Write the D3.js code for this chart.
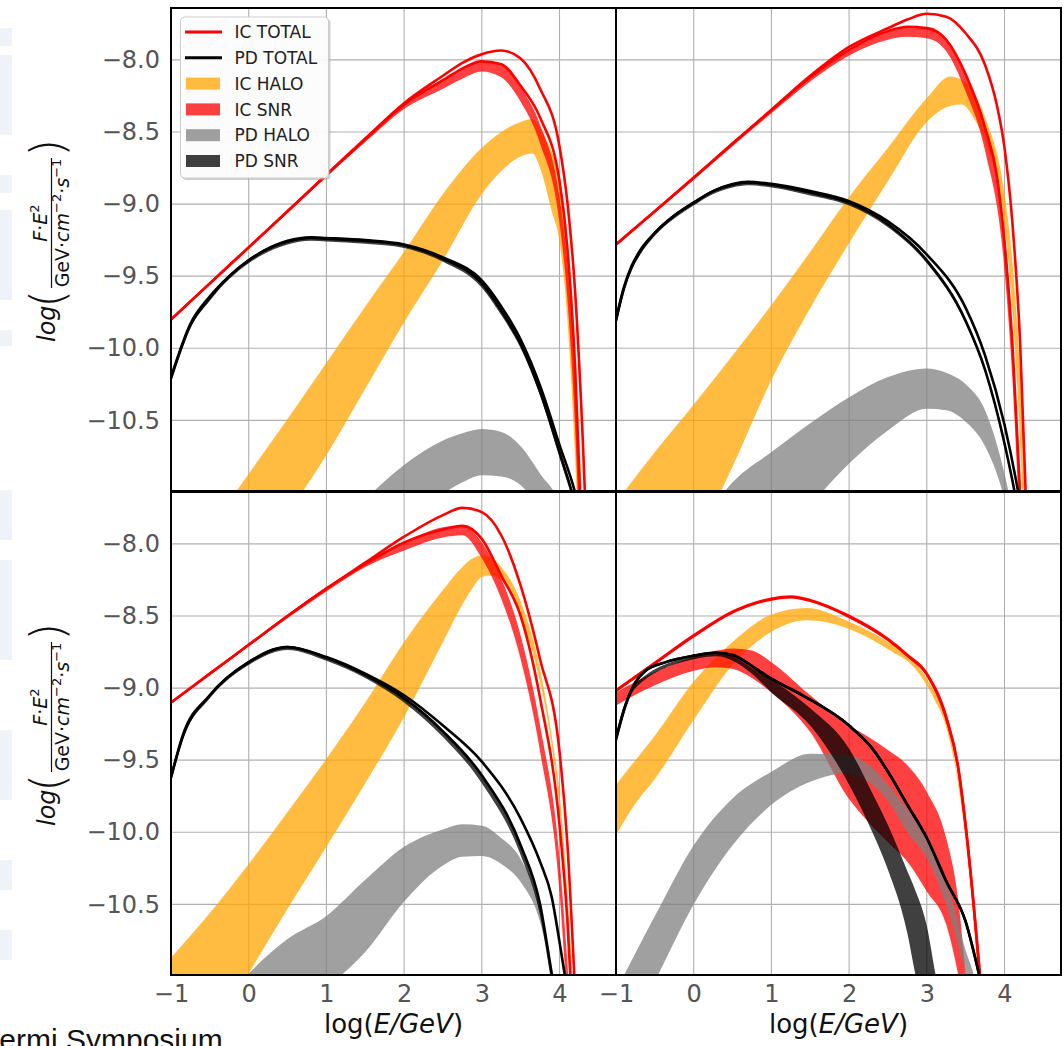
<!DOCTYPE html>
<html>
<head>
<meta charset="utf-8">
<script src="https://cdn.jsdelivr.net/npm/d3@7"></script>
<style>
  body { margin: 0; background: #fff; }
  svg { display: block; font-family: "DejaVu Sans", sans-serif; }
</style>
</head>
<body>
<div id="chart-area"></div>
<script>
// values: [logE, lower, upper]
var xTicks = [-1, 0, 1, 2, 3, 4];
var yTicks = [-8.0, -8.5, -9.0, -9.5, -10.0, -10.5];
var legendLabels = ["IC TOTAL", "PD TOTAL", "IC HALO", "IC SNR", "PD HALO", "PD SNR"];

// ---- top left
var tlIcTotal = [[-1,-9.80,-9.80],[-0.5,-9.55,-9.55],[0,-9.30,-9.30],[0.5,-9.05,-9.05],[1,-8.80,-8.795],[1.5,-8.55,-8.545],[2,-8.31,-8.30],[2.5,-8.14,-8.11],[2.75,-8.06,-8.02],[3,-8.01,-7.96],[3.25,-8.03,-7.935],[3.5,-8.18,-7.99],[3.75,-8.40,-8.20],[4,-8.84,-8.60],[4.1,-9.30,-8.98],[4.2,-10.13,-9.60],[4.3,-11.5,-10.64],[4.4,-12.5,-12.0]];
var tlPdTotal = [[-1,-10.21,-10.20],[-0.75,-9.84,-9.83],[-0.5,-9.65,-9.64],[-0.25,-9.50,-9.50],[0,-9.39,-9.39],[0.5,-9.26,-9.255],[0.8,-9.235,-9.23],[1,-9.24,-9.235],[1.5,-9.255,-9.25],[2,-9.285,-9.28],[2.5,-9.38,-9.37],[3,-9.55,-9.53],[3.25,-9.74,-9.71],[3.5,-9.97,-9.94],[3.75,-10.30,-10.26],[4,-10.72,-10.67],[4.2,-11.08,-11.0],[4.4,-11.6,-11.5]];
var tlIcHalo = [[-1,-12.3,-11.65],[-0.5,-11.95,-11.25],[0,-11.55,-10.87],[0.5,-11.15,-10.49],[1,-10.74,-10.10],[1.5,-10.28,-9.71],[2,-9.82,-9.33],[2.5,-9.39,-8.93],[3,-8.93,-8.61],[3.25,-8.77,-8.50],[3.5,-8.67,-8.43],[3.65,-8.65,-8.41],[3.75,-8.75,-8.47],[3.9,-9.05,-8.64],[4,-9.26,-8.80],[4.1,-9.79,-9.21],[4.2,-10.75,-9.95],[4.3,-12.0,-11.2]];
var tlIcSnr = [[-1,-9.81,-9.80],[0,-9.31,-9.30],[1,-8.81,-8.80],[1.5,-8.57,-8.55],[2,-8.34,-8.31],[2.5,-8.20,-8.14],[2.75,-8.13,-8.06],[3,-8.08,-8.01],[3.25,-8.12,-8.03],[3.5,-8.29,-8.19],[3.75,-8.58,-8.45],[4,-9.13,-8.95],[4.1,-9.65,-9.40],[4.2,-10.55,-10.25],[4.3,-12.0,-11.7]];
var tlPdHalo = [[1,-11.9,-11.35],[1.5,-11.55,-11.05],[2,-11.22,-10.81],[2.5,-11.01,-10.64],[2.75,-10.93,-10.59],[3,-10.88,-10.56],[3.25,-10.89,-10.58],[3.5,-10.95,-10.68],[3.75,-11.15,-10.87],[4,-11.6,-11.08],[4.2,-12.2,-11.5]];
var tlPdSnr = [[-1,-10.23,-10.21],[-0.75,-9.86,-9.84],[-0.5,-9.67,-9.65],[-0.25,-9.52,-9.50],[0,-9.41,-9.39],[0.5,-9.28,-9.26],[0.8,-9.255,-9.235],[1,-9.26,-9.24],[1.5,-9.275,-9.255],[2,-9.305,-9.285],[2.5,-9.40,-9.38],[3,-9.58,-9.55],[3.25,-9.77,-9.74],[3.5,-10.0,-9.97],[3.75,-10.33,-10.30],[4,-10.76,-10.72],[4.2,-11.12,-11.08],[4.4,-11.65,-11.6]];

// ---- top right
var trIcTotal = [[-1,-9.28,-9.28],[-0.5,-9.05,-9.05],[0,-8.82,-8.815],[0.5,-8.58,-8.58],[1,-8.35,-8.345],[1.5,-8.12,-8.11],[2,-7.93,-7.91],[2.5,-7.80,-7.78],[2.75,-7.77,-7.72],[3,-7.78,-7.68],[3.25,-7.86,-7.70],[3.5,-8.10,-7.815],[3.75,-8.47,-8.035],[3.9,-8.80,-8.31],[4,-9.26,-8.61],[4.1,-9.95,-9.12],[4.2,-11.0,-9.95],[4.3,-12.0,-11.4]];
var trPdTotal = [[-1,-9.81,-9.80],[-0.9,-9.59,-9.58],[-0.8,-9.44,-9.43],[-0.7,-9.34,-9.33],[-0.5,-9.20,-9.20],[-0.25,-9.08,-9.08],[0,-8.99,-8.99],[0.25,-8.91,-8.91],[0.5,-8.865,-8.86],[0.7,-8.85,-8.845],[1,-8.865,-8.86],[1.5,-8.92,-8.91],[2,-8.99,-8.98],[2.5,-9.14,-9.12],[3,-9.39,-9.35],[3.5,-9.81,-9.72],[3.75,-10.15,-10.05],[4,-10.66,-10.53],[4.15,-11.05,-10.92],[4.3,-11.5,-11.4]];
var trIcHalo = [[-1,-12.4,-11.07],[-0.5,-11.9,-10.72],[0,-11.38,-10.39],[0.5,-10.82,-10.05],[1,-10.22,-9.70],[1.5,-9.72,-9.33],[2,-9.27,-8.95],[2.5,-8.84,-8.61],[3,-8.43,-8.265],[3.3,-8.32,-8.115],[3.45,-8.31,-8.14],[3.6,-8.40,-8.22],[3.75,-8.565,-8.40],[4,-9.14,-8.93],[4.1,-9.72,-9.39],[4.2,-10.64,-10.18],[4.3,-12.0,-11.5]];
var trIcSnr = [[-1,-9.29,-9.28],[0,-8.83,-8.82],[1,-8.37,-8.35],[1.5,-8.15,-8.12],[2,-7.97,-7.93],[2.5,-7.86,-7.80],[2.75,-7.84,-7.77],[3,-7.85,-7.77],[3.25,-7.94,-7.85],[3.5,-8.22,-8.10],[3.75,-8.63,-8.47],[4,-9.46,-9.20],[4.1,-10.2,-9.90],[4.2,-11.3,-11.0]];
var trPdHalo = [[0,-12.2,-11.3],[0.5,-11.85,-10.93],[1,-11.5,-10.72],[1.5,-11.1,-10.52],[2,-10.80,-10.34],[2.5,-10.57,-10.20],[3,-10.42,-10.14],[3.25,-10.43,-10.17],[3.5,-10.51,-10.25],[3.75,-10.68,-10.43],[4,-11.05,-10.87],[4.2,-11.6,-11.4]];
var trPdSnr = [[-1,-9.83,-9.81],[-0.9,-9.61,-9.59],[-0.8,-9.46,-9.44],[-0.7,-9.36,-9.34],[-0.5,-9.22,-9.20],[-0.25,-9.10,-9.08],[0,-9.01,-8.99],[0.25,-8.93,-8.91],[0.5,-8.885,-8.865],[0.7,-8.87,-8.85],[1,-8.885,-8.865],[1.5,-8.94,-8.92],[2,-9.01,-8.99],[2.5,-9.16,-9.14],[3,-9.41,-9.39],[3.5,-9.83,-9.81],[3.75,-10.17,-10.15],[4,-10.68,-10.66],[4.15,-11.07,-11.05],[4.3,-11.55,-11.5]];

// ---- bottom left
var blIcTotal = [[-1,-9.10,-9.10],[-0.5,-8.90,-8.90],[0,-8.70,-8.70],[0.5,-8.50,-8.50],[1,-8.31,-8.31],[1.5,-8.14,-8.13],[2,-7.99,-7.95],[2.5,-7.90,-7.80],[2.75,-7.875,-7.75],[3,-7.965,-7.78],[3.25,-8.22,-7.94],[3.5,-8.50,-8.29],[3.75,-9.07,-8.80],[4,-9.95,-9.44],[4.1,-10.6,-10.07],[4.2,-11.6,-11.1]];
var blPdTotal = [[-1,-9.62,-9.62],[-0.85,-9.34,-9.33],[-0.5,-9.05,-9.05],[0,-8.82,-8.82],[0.5,-8.715,-8.715],[1,-8.79,-8.785],[1.5,-8.91,-8.90],[2,-9.07,-9.05],[2.5,-9.30,-9.26],[3,-9.605,-9.51],[3.5,-10.09,-9.905],[3.75,-10.50,-10.205],[3.9,-10.98,-10.45],[4,-11.3,-10.76],[4.1,-11.6,-11.1],[4.3,-12.2,-11.7]];
var blIcHalo = [[-1,-11.9,-10.87],[-0.5,-11.45,-10.56],[0,-10.98,-10.22],[0.5,-10.53,-9.86],[1,-10.10,-9.49],[1.5,-9.66,-9.10],[2,-9.20,-8.68],[2.5,-8.68,-8.32],[2.75,-8.42,-8.16],[2.9,-8.29,-8.095],[3,-8.23,-8.08],[3.1,-8.22,-8.09],[3.25,-8.25,-8.16],[3.5,-8.50,-8.40],[3.75,-8.96,-8.87],[3.9,-9.40,-9.33],[4,-9.84,-9.72],[4.1,-10.6,-10.41],[4.2,-11.6,-11.3]];
var blIcSnr = [[-1,-9.11,-9.10],[0,-8.71,-8.70],[1,-8.33,-8.31],[1.5,-8.16,-8.14],[2,-8.045,-7.99],[2.5,-7.955,-7.885],[2.75,-7.94,-7.873],[3,-8.10,-7.99],[3.25,-8.38,-8.24],[3.5,-8.80,-8.635],[3.75,-9.44,-9.26],[4,-10.41,-10.18],[4.1,-11.2,-10.9],[4.2,-12.0,-11.7]];
var blPdHalo = [[-0.5,-11.9,-11.3],[0,-11.6,-10.98],[0.5,-11.3,-10.74],[1,-11.08,-10.58],[1.5,-10.83,-10.33],[2,-10.48,-10.10],[2.5,-10.23,-9.98],[2.75,-10.17,-9.945],[3,-10.165,-9.955],[3.25,-10.22,-10.04],[3.5,-10.345,-10.185],[3.75,-10.62,-10.53],[3.9,-10.98,-10.95],[4.1,-11.6,-11.5]];
var blPdSnr = [[-1,-9.64,-9.62],[-0.85,-9.36,-9.34],[-0.5,-9.07,-9.05],[0,-8.84,-8.82],[0.5,-8.735,-8.715],[1,-8.81,-8.79],[1.5,-8.93,-8.91],[2,-9.10,-9.07],[2.5,-9.34,-9.30],[3,-9.66,-9.61],[3.5,-10.16,-10.09],[3.75,-10.58,-10.50],[3.9,-11.06,-10.98],[4,-11.4,-11.3],[4.1,-11.7,-11.6],[4.3,-12.3,-12.2]];

// ---- bottom right
var brIcTotal = [[-1,-9.02,-9.015],[-0.5,-8.83,-8.825],[0,-8.64,-8.635],[0.5,-8.475,-8.47],[1,-8.385,-8.38],[1.25,-8.37,-8.365],[1.5,-8.395,-8.39],[2,-8.505,-8.50],[2.5,-8.665,-8.66],[2.75,-8.775,-8.77],[3,-8.905,-8.90],[3.25,-9.21,-9.20],[3.4,-9.545,-9.535],[3.5,-9.96,-9.95],[3.6,-10.49,-10.48],[3.7,-11.1,-11.08],[3.8,-11.8,-11.8]];
var brPdTotal = [[-1,-9.35,-9.35],[-0.88,-9.12,-9.12],[-0.75,-8.96,-8.96],[-0.62,-8.88,-8.88],[-0.36,-8.82,-8.82],[0,-8.775,-8.775],[0.28,-8.755,-8.755],[0.5,-8.77,-8.77],[0.8,-8.865,-8.865],[1,-8.935,-8.935],[1.4,-9.05,-9.05],[2,-9.26,-9.26],[2.3,-9.42,-9.42],[2.5,-9.58,-9.58],[2.75,-9.81,-9.81],[3,-10.04,-10.04],[3.25,-10.34,-10.34],[3.5,-10.62,-10.62],[3.67,-10.98,-10.98],[3.8,-11.3,-11.3]];
var brIcHalo = [[-1,-10.02,-9.67],[-0.75,-9.80,-9.50],[-0.5,-9.63,-9.33],[0,-9.22,-8.955],[0.5,-8.84,-8.68],[1,-8.61,-8.49],[1.45,-8.53,-8.445],[2,-8.59,-8.54],[2.5,-8.73,-8.68],[2.85,-8.865,-8.82],[3.07,-9.05,-9.0],[3.28,-9.33,-9.26],[3.37,-9.56,-9.535],[3.5,-10.05,-9.97],[3.6,-10.6,-10.5],[3.7,-11.3,-11.2]];
var brIcSnr = [[-1,-9.12,-9.03],[-0.5,-8.98,-8.89],[0,-8.88,-8.785],[0.3,-8.855,-8.74],[0.5,-8.866,-8.725],[0.75,-8.93,-8.74],[1,-9.03,-8.82],[1.5,-9.305,-9.05],[2,-9.77,-9.26],[2.25,-9.93,-9.34],[2.5,-10.07,-9.43],[2.75,-10.205,-9.535],[3,-10.41,-9.72],[3.25,-10.64,-10.04],[3.4,-10.98,-10.45],[3.5,-11.3,-10.98],[3.6,-11.8,-11.6]];
var brPdHalo = [[-1,-11.57,-11.1],[-0.45,-10.98,-10.53],[0,-10.5,-10.09],[0.5,-10.09,-9.765],[1,-9.81,-9.58],[1.5,-9.65,-9.455],[2,-9.59,-9.465],[2.25,-9.65,-9.53],[2.5,-9.78,-9.67],[2.75,-10.0,-9.84],[3,-10.18,-10.02],[3.25,-10.5,-10.33],[3.5,-10.98,-10.82],[3.6,-11.2,-10.98],[3.8,-11.8,-11.5]];
var brPdSnr = [[-1,-9.40,-9.36],[-0.75,-9.0,-8.97],[0,-8.80,-8.78],[0.3,-8.78,-8.76],[0.5,-8.81,-8.78],[0.75,-8.90,-8.86],[1,-9.03,-8.94],[1.5,-9.26,-9.14],[2,-9.67,-9.42],[2.3,-10.0,-9.73],[2.5,-10.26,-9.95],[2.75,-10.7,-10.27],[2.85,-10.98,-10.4],[3,-11.35,-10.65],[3.11,-11.6,-10.98],[3.3,-12.2,-11.5]];

// ---- layout
var panelW = 445, panelH = 483;
var x = d3.scaleLinear().domain([-1, 4.727]).range([0, panelW]);
var y = d3.scaleLinear().domain([-10.99, -7.64]).range([panelH, 0]);

var panels = [
    { id: "tl", left: 171, top: 8,   data: [tlIcHalo, tlIcSnr, tlPdHalo, tlPdSnr, tlIcTotal, tlPdTotal], yAxis: true,  xAxis: false, legend: true },
    { id: "tr", left: 616, top: 8,   data: [trIcHalo, trIcSnr, trPdHalo, trPdSnr, trIcTotal, trPdTotal], yAxis: false, xAxis: false, legend: false },
    { id: "bl", left: 171, top: 492, data: [blIcHalo, blIcSnr, blPdHalo, blPdSnr, blIcTotal, blPdTotal], yAxis: true,  xAxis: true,  legend: false },
    { id: "br", left: 616, top: 492, data: [brIcHalo, brIcSnr, brPdHalo, brPdSnr, brIcTotal, brPdTotal], yAxis: false, xAxis: true,  legend: false }
];

var bandColors = ["#ffa500", "#ff0000", "#808080", "#000000"];   // IC HALO, IC SNR, PD HALO, PD SNR (alpha .75)
var lineColors = ["#ff0000", "#000000"];                         // IC TOTAL, PD TOTAL

var svg = d3.select("#chart-area")
            .append("svg")
            .attr("width", 1064)
            .attr("height", 1046);

// faint slide background at the left edge
var bgBits = [[28, 18], [55, 80], [175, 18], [210, 90], [330, 16], [490, 50], [560, 100], [730, 70], [860, 30], [930, 30]];
svg.selectAll("rect.bg")
   .data(bgBits)
   .enter().append("rect")
   .attr("class", "bg")
   .attr("x", 0).attr("width", 12)
   .attr("y", (d) => d[0]).attr("height", (d) => d[1])
   .attr("fill", "#eef3f9");

var area = d3.area()
             .x((d) => x(d[0]))
             .y0((d) => y(d[1]))
             .y1((d) => y(d[2]))
             .curve(d3.curveMonotoneX);
var lineLo = d3.line().x((d) => x(d[0])).y((d) => y(d[1])).curve(d3.curveMonotoneX);
var lineHi = d3.line().x((d) => x(d[0])).y((d) => y(d[2])).curve(d3.curveMonotoneX);

panels.forEach(function(p) {
    var g = svg.append("g")
               .attr("transform", "translate(" + p.left + "," + p.top + ")");

    g.append("clipPath")
     .attr("id", "clip-" + p.id)
     .append("rect")
     .attr("width", panelW)
     .attr("height", panelH);

    // grid
    g.selectAll("line.gx").data(xTicks).enter().append("line")
     .attr("x1", (d) => x(d)).attr("x2", (d) => x(d))
     .attr("y1", 0).attr("y2", panelH)
     .attr("stroke", "#b0b0b0").attr("stroke-width", 1.1);
    g.selectAll("line.gy").data(yTicks).enter().append("line")
     .attr("y1", (d) => y(d)).attr("y2", (d) => y(d))
     .attr("x1", 0).attr("x2", panelW)
     .attr("stroke", "#b0b0b0").attr("stroke-width", 1.1);

    var plot = g.append("g").attr("clip-path", "url(#clip-" + p.id + ")");

    // bands
    p.data.slice(0, 4).forEach(function(band, i) {
        plot.append("path")
            .datum(band)
            .attr("d", area)
            .attr("fill", bandColors[i])
            .attr("fill-opacity", 0.75);
    });

    // total lines, two each (lower / upper)
    p.data.slice(4).forEach(function(tot, i) {
        [lineLo, lineHi].forEach(function(gen) {
            plot.append("path")
                .datum(tot)
                .attr("d", gen)
                .attr("fill", "none")
                .attr("stroke", lineColors[i])
                .attr("stroke-width", 2.6);
        });
    });

    // frame
    g.append("rect")
     .attr("width", panelW).attr("height", panelH)
     .attr("fill", "none").attr("stroke", "#000").attr("stroke-width", 2);

    if (p.yAxis) {
        var ya = g.append("g").call(d3.axisLeft(y).tickValues(yTicks).tickSize(0).tickPadding(11).tickFormat(d3.format(".1f")));
        ya.select(".domain").remove();
        ya.selectAll("text").attr("font-family", "DejaVu Sans").attr("font-size", 24).attr("fill", "#555");
    }
    if (p.xAxis) {
        var xa = g.append("g").attr("transform", "translate(0," + panelH + ")")
                  .call(d3.axisBottom(x).tickValues(xTicks).tickSize(0).tickPadding(10).tickFormat(d3.format("d")));
        xa.select(".domain").remove();
        xa.selectAll("text").attr("font-family", "DejaVu Sans").attr("font-size", 24).attr("fill", "#555");

        var xl = g.append("text")
                  .attr("x", panelW / 2).attr("y", panelH + 58)
                  .attr("text-anchor", "middle")
                  .attr("font-size", 26).attr("fill", "#111");
        xl.append("tspan").text("log(");
        xl.append("tspan").attr("font-style", "italic").text("E/GeV");
        xl.append("tspan").text(")");
    }
    if (p.yAxis) {
        drawYLabel(p.top + 233);
    }
    if (p.legend) {
        drawLegend(g);
    }
});

function drawYLabel(cy) {
    var lab = svg.append("g")
                 .attr("transform", "translate(55," + cy + ") rotate(-90)")
                 .attr("fill", "#111");
    lab.append("text").attr("x", -101).attr("y", 0)
       .attr("font-size", 24).attr("font-style", "italic").text("log");
    lab.append("text").attr("x", -67).attr("y", 8)
       .attr("font-size", 47).attr("font-weight", 200).text("(");
    lab.append("text").attr("x", 84).attr("y", 8)
       .attr("font-size", 47).attr("font-weight", 200).text(")");

    var num = lab.append("text").attr("x", 18).attr("y", -8)
                 .attr("text-anchor", "middle").attr("font-size", 19);
    num.append("tspan").attr("font-style", "italic").text("F");
    num.append("tspan").text("·");
    num.append("tspan").attr("font-style", "italic").text("E");
    num.append("tspan").attr("font-size", 13).attr("dy", -8).text("2");

    lab.append("line").attr("x1", -47).attr("x2", 83)
       .attr("y1", -3.5).attr("y2", -3.5)
       .attr("stroke", "#111").attr("stroke-width", 1.2);

    var den = lab.append("text").attr("x", 18).attr("y", 14)
                 .attr("text-anchor", "middle").attr("font-size", 19);
    den.append("tspan").text("GeV·");
    den.append("tspan").attr("font-style", "italic").text("cm");
    den.append("tspan").attr("font-size", 13).attr("dy", -8).text("−2");
    den.append("tspan").attr("dy", 8).text("·");
    den.append("tspan").attr("font-style", "italic").text("s");
    den.append("tspan").attr("font-size", 13).attr("dy", -8).text("−1");
}

function drawLegend(g) {
    var lg = g.append("g").attr("transform", "translate(9.5,9)");
    lg.append("rect").attr("x", 2).attr("y", 2).attr("width", 148).attr("height", 161)
      .attr("rx", 4).attr("fill", "#999").attr("fill-opacity", 0.45);
    lg.append("rect").attr("width", 148).attr("height", 161)
      .attr("rx", 4).attr("fill", "#fff").attr("fill-opacity", 0.92)
      .attr("stroke", "#cccccc").attr("stroke-width", 1);

    var swatch = ["#ff0000", "#000000", "#ffa500", "#ff0000", "#808080", "#000000"];
    legendLabels.forEach(function(label, i) {
        var ry = 15 + i * 25.8;
        if (i < 2) {
            lg.append("line").attr("x1", 4.5).attr("x2", 41.5).attr("y1", ry).attr("y2", ry)
              .attr("stroke", swatch[i]).attr("stroke-width", 3);
        } else {
            lg.append("rect").attr("x", 5.5).attr("y", ry - 6).attr("width", 34).attr("height", 12)
              .attr("fill", swatch[i]).attr("fill-opacity", 0.75);
        }
        lg.append("text").attr("x", 54).attr("y", ry).attr("dy", "0.36em")
          .attr("font-size", 17).attr("fill", "#222").text(label);
    });
}

// slide footer, cut at the left edge as in the slide
svg.append("text")
   .attr("x", -19).attr("y", 1050)
   .attr("font-family", "Liberation Sans, Arial, sans-serif")
   .attr("font-size", 30).attr("fill", "#111")
   .text("Fermi Symposium");
</script>
</body>
</html>
